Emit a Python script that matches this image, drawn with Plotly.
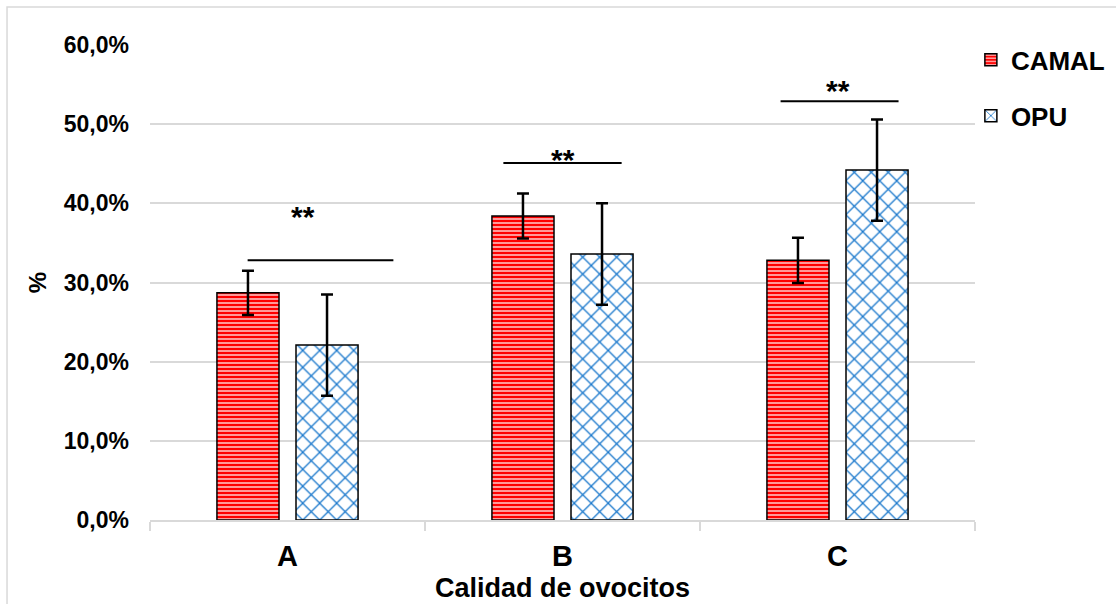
import plotly.graph_objects as go

categories = ["A", "B", "C"]
camal_values = [28.7, 38.4, 32.8]
camal_errors = [2.8, 2.85, 2.85]
opu_values = [22.1, 33.6, 44.2]
opu_errors = [6.4, 6.4, 6.4]

# significance markers: line y level (%), line start/end (category units), label position
sig_line_y = [32.8, 45.1, 52.9]
sig_line_x0 = [-0.145, 0.785, 1.793]
sig_line_x1 = [0.385, 1.215, 2.222]
sig_label_x = [0.058, 1.0, 2.0]
sig_label_y = [38.3, 45.6, 54.2]
sig_labels = ["**", "**", "**"]

FONT = "Liberation Sans, Arial, sans-serif"

fig = go.Figure()
fig.add_trace(go.Bar(
    name="CAMAL", x=categories, y=camal_values,
    error_y=dict(type="data", array=camal_errors, color="black", thickness=2.5, width=6),
    marker=dict(color="#ff0000", line=dict(color="black", width=1.5),
                pattern=dict(shape="-", bgcolor="#ff0000", fgcolor="white",
                             size=4, solidity=0.3, fillmode="replace")),
    legendgroup="g1",
))
fig.add_trace(go.Bar(
    name="OPU", x=categories, y=opu_values,
    error_y=dict(type="data", array=opu_errors, color="black", thickness=2.5, width=6),
    marker=dict(color="white", line=dict(color="black", width=1.5),
                pattern=dict(shape="x", bgcolor="white", fgcolor="#1a78cc",
                             size=12, solidity=0.2, fillmode="replace")),
    legendgroup="g2",
))

for i in range(len(categories)):
    fig.add_shape(type="line", xref="x", yref="y",
                  x0=sig_line_x0[i], x1=sig_line_x1[i], y0=sig_line_y[i], y1=sig_line_y[i],
                  line=dict(color="black", width=2))
    fig.add_annotation(x=sig_label_x[i], y=sig_label_y[i], xref="x", yref="y",
                       text=sig_labels[i], showarrow=False,
                       font=dict(family=FONT, size=30, color="black", weight="bold"))

# outer chart frame
fig.add_shape(type="rect", xref="paper", yref="paper",
              x0=-0.1733, x1=1.175, y0=-0.25, y1=1.08,
              line=dict(color="#d9d9d9", width=1.5), fillcolor="rgba(0,0,0,0)", layer="below")

fig.update_layout(
    width=1116, height=604,
    margin=dict(l=150, r=141, t=45, b=84, autoexpand=False),
    paper_bgcolor="white", plot_bgcolor="white",
    separators=",.",
    barmode="group", bargap=0.425, bargroupgap=0.215,
    font=dict(family=FONT, color="black", weight="bold"),
    showlegend=True,
    legend=dict(x=0.995, y=1.018, xanchor="left", yanchor="top",
                font=dict(family=FONT, size=26, color="black", weight="bold"),
                tracegroupgap=19, bgcolor="rgba(0,0,0,0)"),
    xaxis=dict(
        automargin=False,
        showline=True, linecolor="#d9d9d9", linewidth=1.5,
        ticks="outside", tickson="boundaries", ticklen=9, tickcolor="#d9d9d9", tickwidth=1.5,
        ticklabelstandoff=9,
        tickfont=dict(family=FONT, size=29, color="black", weight="bold"),
        title=dict(text="Calidad de ovocitos", standoff=8,
                   font=dict(family=FONT, size=27, color="black", weight="bold")),
        showgrid=False,
    ),
    yaxis=dict(
        automargin=False,
        range=[0, 60], dtick=10, tickformat=".1f", ticksuffix="%",
        showgrid=True, gridcolor="#d9d9d9", gridwidth=1.5,
        zeroline=False, showline=False, ticks="", ticklabelstandoff=20,
        tickfont=dict(family=FONT, size=23, color="black", weight="bold"),
        title=dict(text="%", standoff=10,
                   font=dict(family=FONT, size=24, color="black", weight="bold")),
    ),
)

fig.write_html("out.html", config={"displayModeBar": False},
               post_script="document.body.style.margin='0';document.body.style.padding='0';")
